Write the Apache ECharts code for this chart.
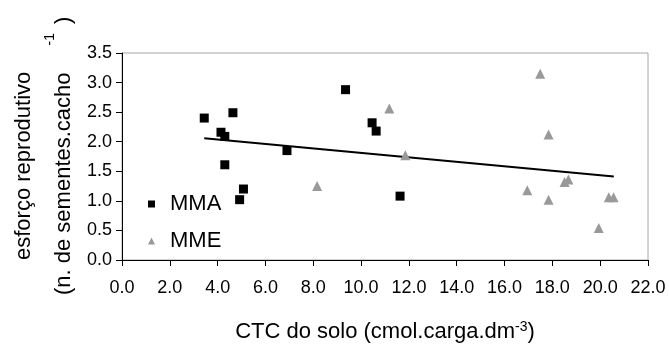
<!DOCTYPE html>
<html>
<head>
<meta charset="utf-8">
<script src="https://cdn.jsdelivr.net/npm/echarts@6/dist/echarts.min.js"></script>
<style>
  html, body { margin: 0; padding: 0; background: #fff; }
  #chart { width: 669px; height: 349px; }
</style>
</head>
<body>
<div id="chart"></div>
<script>
const FONT = "'Liberation Sans', Arial, sans-serif";

// MMA (squares)
const mmaX = [3.44, 4.64, 4.14, 4.30, 4.30, 5.08, 4.92, 6.90, 9.35, 10.46, 10.63, 11.63];
const mmaY = [2.40, 2.49, 2.16, 2.09, 1.61, 1.20, 1.02, 1.85, 2.88, 2.32, 2.18, 1.08];
// MME (triangles)
const mmeX = [8.16, 11.18, 11.85, 17.49, 17.84, 16.95, 17.84, 18.51, 18.67, 19.94, 20.36, 20.56];
const mmeY = [1.25, 2.56, 1.77, 3.15, 2.12, 1.18, 1.02, 1.32, 1.36, 0.54, 1.06, 1.06];
// trend line end points
const trendX = [3.44, 20.57];
const trendY = [2.06, 1.41];

const seriesNames = ["MMA", "MME"];
const xTitle = "CTC do solo (cmol.carga.dm";
const xTitleSup = "-3";
const yTitle1 = "esforço reprodutivo";
const yTitle2 = "(n. de sementes.cacho";
const yTitleSup = "-1";

const pairs = (xs, ys) => xs.map((x, i) => [x, ys[i]]);

const chart = echarts.init(document.getElementById("chart"));

chart.setOption({
  animation: false,
  backgroundColor: "#fff",
  textStyle: { fontFamily: FONT, color: "#000" },
  grid: {
    left: 122,
    right: 21,
    top: 53,
    bottom: 86,
    show: true,
    borderColor: "#a6a6a6",
    borderWidth: 1,
  },
  legend: {
    data: [
      { name: seriesNames[0], icon: "rect" },
      { name: seriesNames[1], icon: "triangle" },
    ],
    orient: "vertical",
    left: 143,
    top: 188,
    itemWidth: 7,
    itemHeight: 7,
    itemGap: 15,
    textStyle: {
      fontFamily: FONT,
      fontSize: 22,
      lineHeight: 22,
      color: "#000",
      padding: [0, 0, 0, 10],
    },
  },
  xAxis: {
    type: "value",
    min: 0,
    max: 22,
    interval: 2,
    splitLine: { show: false },
    axisLine: { show: true, onZero: false, lineStyle: { color: "#000", width: 1 } },
    axisTick: { show: true, length: 6, lineStyle: { color: "#000" } },
    axisLabel: {
      margin: 19,
      fontSize: 18,
      fontFamily: FONT,
      color: "#000",
      formatter: (v) => v.toFixed(1),
    },
    name: `{t|${xTitle}}{s|${xTitleSup}}{t|)}`,
    nameLocation: "middle",
    nameGap: 61,
    nameTextStyle: {
      rich: {
        t: { fontSize: 22, lineHeight: 22, fontFamily: FONT, color: "#000" },
        s: {
          fontSize: 14,
          lineHeight: 14,
          fontFamily: FONT,
          color: "#000",
          padding: [0, 0, 10, 0],
        },
      },
    },
  },
  yAxis: {
    type: "value",
    min: 0,
    max: 3.5,
    interval: 0.5,
    splitLine: { show: false },
    axisLine: { show: true, onZero: false, lineStyle: { color: "#000", width: 1 } },
    axisTick: { show: true, length: 6, lineStyle: { color: "#000" } },
    axisLabel: {
      margin: 10,
      fontSize: 18,
      fontFamily: FONT,
      color: "#000",
      formatter: (v) => v.toFixed(1),
    },
  },
  graphic: [
    {
      type: "text",
      x: 24,
      y: 260,
      rotation: Math.PI / 2,
      style: {
        text: yTitle1,
        fill: "#000",
        fontSize: 22,
        fontFamily: FONT,
        align: "left",
        textAlign: "left",
        verticalAlign: "middle",
        textVerticalAlign: "middle",
      },
    },
    {
      type: "text",
      x: 64,
      y: 295,
      rotation: Math.PI / 2,
      style: {
        text: `{t|${yTitle2}}{s|${yTitleSup}}{t|)}`,
        fill: "#000",
        align: "left",
        textAlign: "left",
        verticalAlign: "middle",
        textVerticalAlign: "middle",
        rich: {
          t: { fontSize: 22, lineHeight: 42, fontFamily: FONT, fill: "#000" },
          s: {
            fontSize: 14,
            lineHeight: 14,
            fontFamily: FONT,
            fill: "#000",
            verticalAlign: "top",
            padding: [0, 9, 0, 27],
          },
        },
      },
    },
  ],
  series: [
    {
      name: "trend",
      type: "line",
      data: pairs(trendX, trendY),
      symbol: "none",
      lineStyle: { color: "#000", width: 2 },
      z: 2,
      silent: true,
    },
    {
      name: seriesNames[0],
      type: "scatter",
      data: pairs(mmaX, mmaY),
      symbol: "rect",
      symbolSize: 9,
      itemStyle: { color: "#000", opacity: 1 },
      z: 3,
    },
    {
      name: seriesNames[1],
      type: "scatter",
      data: pairs(mmeX, mmeY),
      symbol: "triangle",
      symbolSize: 10,
      itemStyle: { color: "#999999", opacity: 1 },
      z: 3,
    },
  ],
});
</script>
</body>
</html>
